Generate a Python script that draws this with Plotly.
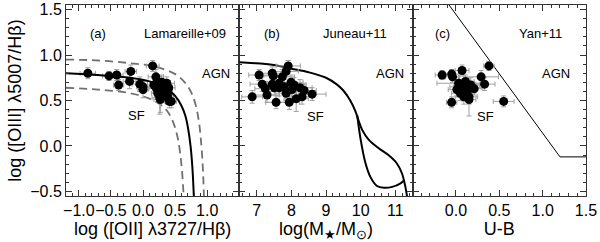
import plotly.graph_objects as go
from plotly.subplots import make_subplots

# ---------------- data ----------------
# Panel (a): log([OII]/Hb) vs log([OIII]/Hb)
a_x  = [-0.86, -0.53, -0.41, -0.38, -0.19, -0.21, -0.05, 0.00, 0.00, 0.15, 0.20, 0.17, 0.21, 0.23,
        0.26, 0.31, 0.34, 0.37, 0.38, 0.27, 0.29, 0.40, 0.38, 0.41, 0.44, 0.21, 0.31]
a_y  = [0.80, 0.77, 0.78, 0.67, 0.82, 0.71, 0.68, 0.65, 0.62, 0.88, 0.76, 0.67, 0.63, 0.58,
        0.53, 0.66, 0.62, 0.69, 0.56, 0.51, 0.70, 0.64, 0.54, 0.49, 0.49, 0.69, 0.60]
a_xe = [0.12, 0.10, 0.10, 0.08, 0.09, 0.10, 0.12, 0.10, 0.08, 0.10, 0.12, 0.10, 0.12, 0.10,
        0.12, 0.10, 0.12, 0.12, 0.10, 0.10, 0.10, 0.10, 0.10, 0.08, 0.08, 0.10, 0.10]
a_ye = [0.06, 0.05, 0.06, 0.06, 0.07, 0.08, 0.08, 0.07, 0.09, 0.06, 0.08, 0.08, 0.09, 0.10,
        0.18, 0.08, 0.08, 0.07, 0.09, 0.14, 0.08, 0.08, 0.08, 0.07, 0.07, 0.08, 0.09]

# Lamareille+09 demarcation (solid) and its +/- uncertainty (dashed)
lam_x  = [-1.2, -0.7, -0.2, 0.1, 0.35, 0.5, 0.6, 0.66, 0.70, 0.74, 0.77, 0.79, 0.80]
lam_y  = [0.80, 0.78, 0.75, 0.71, 0.64, 0.55, 0.44, 0.33, 0.20, 0.00, -0.25, -0.53, -0.72]
lamu_x = [-1.2, -0.7, -0.2, 0.2, 0.5, 0.65, 0.75, 0.82, 0.87, 0.90, 0.93, 0.95]
lamu_y = [0.95, 0.94, 0.91, 0.87, 0.79, 0.70, 0.59, 0.45, 0.27, 0.08, -0.22, -0.57]
laml_x = [-1.2, -0.7, -0.2, 0.1, 0.3, 0.4, 0.48, 0.54, 0.58, 0.61, 0.63, 0.64]
laml_y = [0.64, 0.62, 0.58, 0.52, 0.44, 0.36, 0.24, 0.09, -0.09, -0.30, -0.52, -0.68]

# Panel (b): log(M*/Msun) vs log([OIII]/Hb)
b_x  = [7.91, 7.85, 7.07, 7.45, 7.48, 7.74, 7.16, 7.25, 7.45, 7.65, 6.87, 7.30, 7.56, 7.65,
        7.79, 7.99, 8.02, 7.94, 8.14, 8.25, 8.37, 8.31, 8.60, 7.85, 7.51, 8.08]
b_y  = [0.88, 0.82, 0.78, 0.80, 0.77, 0.76, 0.68, 0.63, 0.68, 0.64, 0.54, 0.56, 0.48, 0.69,
        0.65, 0.70, 0.62, 0.48, 0.52, 0.64, 0.61, 0.54, 0.57, 0.58, 0.64, 0.67]
b_xe = [0.35, 0.35, 0.30, 0.35, 0.30, 0.35, 0.35, 0.30, 0.35, 0.30, 0.30, 0.35, 0.30, 0.35,
        0.30, 0.35, 0.35, 0.30, 0.35, 0.35, 0.35, 0.30, 0.40, 0.30, 0.30, 0.35]
b_ye = [0.06, 0.06, 0.06, 0.07, 0.07, 0.08, 0.08, 0.08, 0.08, 0.09, 0.07, 0.08, 0.07, 0.08,
        0.08, 0.08, 0.08, 0.08, 0.14, 0.09, 0.08, 0.08, 0.07, 0.08, 0.08, 0.08]

# Juneau+11 MEx curves
jun_x  = [6.5, 7.5, 8.0, 8.5, 9.0, 9.3, 9.5, 9.7, 9.85, 9.92, 10.04, 10.23, 10.52, 10.80,
          11.04, 11.19, 11.29, 11.34]
jun_y  = [0.92, 0.89, 0.85, 0.81, 0.75, 0.68, 0.61, 0.50, 0.38, 0.30, 0.18, 0.07, -0.025, -0.10,
          -0.19, -0.30, -0.45, -0.56]
junl_x = [9.90, 10.00, 10.14, 10.28, 10.47, 10.67, 10.91, 11.15, 11.25]
junl_y = [0.34, 0.07, -0.19, -0.34, -0.44, -0.46, -0.45, -0.41, -0.38]

# Panel (c): U-B vs log([OIII]/Hb)
c_x  = [0.38, -0.16, -0.05, -0.04, 0.07, 0.29, 0.33, -0.05, 0.55, 0.03, 0.07, 0.11, 0.01, 0.05,
        0.13, 0.15, 0.19, 0.09, 0.15, 0.21, 0.03, 0.11, 0.17]
c_y  = [0.88, 0.78, 0.79, 0.76, 0.83, 0.76, 0.68, 0.48, 0.49, 0.69, 0.65, 0.71, 0.62, 0.58,
        0.60, 0.54, 0.64, 0.54, 0.51, 0.63, 0.65, 0.64, 0.67]
c_xe = [0.06, 0.08, 0.08, 0.08, 0.08, 0.20, 0.12, 0.06, 0.12, 0.25, 0.10, 0.10, 0.10, 0.10,
        0.10, 0.10, 0.10, 0.10, 0.08, 0.10, 0.10, 0.10, 0.10]
c_ye = [0.05, 0.05, 0.05, 0.06, 0.06, 0.07, 0.07, 0.06, 0.06, 0.07, 0.08, 0.07, 0.08, 0.08,
        0.08, 0.08, 0.07, 0.08, 0.18, 0.07, 0.08, 0.07, 0.08]

# Yan+11 CEx line
yan_x = [-0.08, 1.20, 1.50]
yan_y = [1.55, -0.12, -0.12]

# ---------------- figure ----------------
FONT = "Liberation Sans"
AX = "#333333"
ERR = "#a0a0a0"

fig = make_subplots(rows=1, cols=3, shared_yaxes=True, horizontal_spacing=0)

def pts(x, y, xe, ye, col):
    fig.add_trace(go.Scatter(
        x=x, y=y, mode="markers",
        marker=dict(color="black", size=9, line=dict(width=0)),
        error_x=dict(type="data", array=xe, color=ERR, thickness=1, width=2.5),
        error_y=dict(type="data", array=ye, color=ERR, thickness=1, width=2.5),
        showlegend=False), row=1, col=col)

def line(x, y, col, color="black", width=2, dash="solid", shape="spline"):
    fig.add_trace(go.Scatter(
        x=x, y=y, mode="lines",
        line=dict(color=color, width=width, dash=dash, shape=shape),
        showlegend=False), row=1, col=col)

line(lamu_x, lamu_y, 1, color="#707070", width=1.8, dash="8px,5px")
line(laml_x, laml_y, 1, color="#707070", width=1.8, dash="8px,5px")
pts(a_x, a_y, a_xe, a_ye, 1)
line(lam_x, lam_y, 1)

line(jun_x, jun_y, 2)
line(junl_x, junl_y, 2)
pts(b_x, b_y, b_xe, b_ye, 2)

line(yan_x, yan_y, 3, width=1, shape="linear")
pts(c_x, c_y, c_xe, c_ye, 3)

common = dict(showline=True, linecolor=AX, linewidth=1, mirror="allticks",
              ticks="inside", ticklen=6, tickcolor=AX, tickwidth=1,
              showgrid=False, zeroline=False, automargin=False, tickangle=0,
              tickfont=dict(family=FONT, size=16, color="black"),
              title_font=dict(family=FONT, size=18, color="black"))

fig.update_xaxes(range=[-1.2, 1.5], tickmode="array",
                 tickvals=[-1.0, -0.5, 0.0, 0.5, 1.0],
                 ticktext=["\u22121.0", "\u22120.5", "0.0", "0.5", "1.0"],
                 minor=dict(tickmode="linear", tick0=0, dtick=0.1, ticks="inside",
                            ticklen=3, tickcolor=AX),
                 title_text="log ([OII] \u03bb3727/H\u03b2)", title_standoff=1,
                 row=1, col=1, **common)
fig.update_xaxes(range=[6.5, 11.5], tickmode="array",
                 tickvals=[7, 8, 9, 10, 11], ticktext=["7", "8", "9", "10", "11"],
                 minor=dict(tickmode="linear", tick0=0, dtick=0.2, ticks="inside",
                            ticklen=3, tickcolor=AX),
                 title_text="log(M<sub>\u2605</sub>/M<sub>\u2299</sub>)", title_standoff=1,
                 row=1, col=2, **common)
fig.update_xaxes(range=[-0.5, 1.5], tickmode="array",
                 tickvals=[0.0, 0.5, 1.0, 1.5], ticktext=["0.0", "0.5", "1.0", "1.5"],
                 minor=dict(tickmode="linear", tick0=0, dtick=0.1, ticks="inside",
                            ticklen=3, tickcolor=AX),
                 title_text="U-B", title_standoff=1,
                 row=1, col=3, **common)

for c in (1, 2, 3):
    fig.update_yaxes(range=[-0.55, 1.55], tickmode="array",
                     tickvals=[-0.5, 0.0, 0.5, 1.0, 1.5],
                     ticktext=["\u22120.5", "0.0", "0.5", "1.0", "1.5"],
                     minor=dict(tickmode="linear", tick0=0, dtick=0.1, ticks="inside",
                                ticklen=3, tickcolor=AX),
                     row=1, col=c, **common)
fig.update_yaxes(title_text="log ([OIII] \u03bb5007/H\u03b2)", title_standoff=3, row=1, col=1)
fig.update_yaxes(showticklabels=False, row=1, col=2)
fig.update_yaxes(showticklabels=False, row=1, col=3)

ann = [
    ("x", "y", -0.70, 1.24, "(a)"), ("x", "y", 0.66, 1.24, "Lamareille+09"),
    ("x", "y", 1.14, 0.80, "AGN"), ("x", "y", -0.10, 0.33, "SF"),
    ("x2", "y2", 7.45, 1.24, "(b)"), ("x2", "y2", 9.85, 1.24, "Juneau+11"),
    ("x2", "y2", 10.84, 0.80, "AGN"), ("x2", "y2", 8.71, 0.32, "SF"),
    ("x3", "y3", -0.16, 1.24, "(c)"), ("x3", "y3", 0.97, 1.24, "Yan+11"),
    ("x3", "y3", 1.15, 0.80, "AGN"), ("x3", "y3", 0.34, 0.32, "SF"),
]
for xr, yr, x, y, t in ann:
    fig.add_annotation(x=x, y=y, xref=xr, yref=yr, text=t, showarrow=False,
                       font=dict(family=FONT, size=13, color="black"))

fig.update_layout(width=600, height=242, margin=dict(l=66, r=14, t=5, b=46),
                  paper_bgcolor="white", plot_bgcolor="white",
                  font=dict(family=FONT, color="black"))

fig.write_html("out.html", config={"displayModeBar": False},
               post_script="document.body.style.margin='0px';document.body.style.overflow='hidden';")
